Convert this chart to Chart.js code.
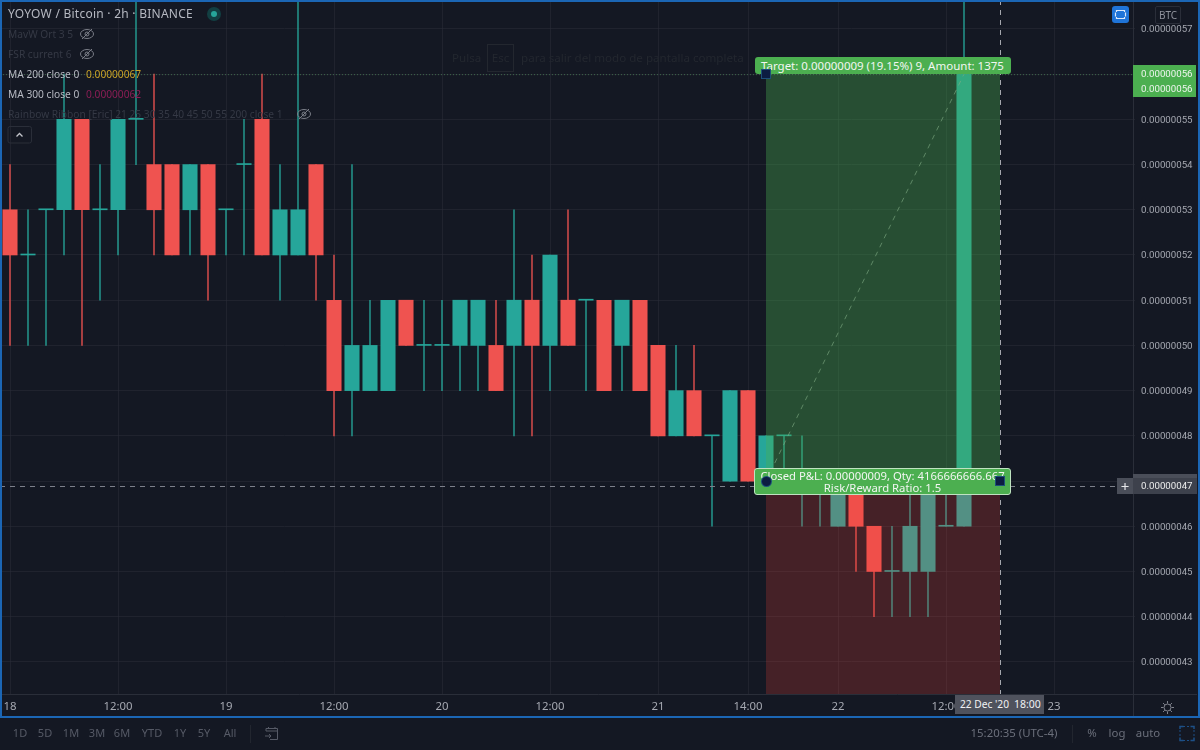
<!DOCTYPE html>
<html lang="es"><head><meta charset="utf-8">
<style>
html,body{margin:0;padding:0;background:#141823;width:1200px;height:750px;overflow:hidden}
#wrap{position:relative;width:1200px;height:750px;font-family:"Noto Sans",sans-serif}
canvas{position:absolute;left:0;top:0}
.t{position:absolute;white-space:nowrap;line-height:16px;font-size:10.2px;height:16px}
.frame{position:absolute;left:0;top:0;width:1196px;height:714px;border:2px solid #1b66b5;box-sizing:content-box;pointer-events:none}
.tag{position:absolute;background:#4caf50;color:#f2f6f2;white-space:nowrap}
.tool{position:absolute;top:725px;line-height:16px;font-size:11px;color:#565a66;transform:translateX(-50%)}
.right{color:#6b6f7b;font-size:11.4px}
.h{position:absolute;background:#0c1d42;box-shadow:0 0 0 1px #1d4f7a}
</style></head><body>
<div id="wrap">
<canvas id="c" width="1200" height="750"></canvas>

<div class="t" style="left:452px;top:50px;color:#23272f;font-size:11.6px">Pulsa</div>
<div class="t" style="left:487px;top:44px;width:25px;height:26px;line-height:26px;text-align:center;border:1px solid #23272f;color:#23272f;font-size:11.6px">Esc</div>
<div class="t" style="left:521px;top:50px;color:#23272f;font-size:11.6px">para salir del modo de pantalla completa</div>

<div class="t" style="left:8px;top:6px;color:#b6b9c2;font-size:12px;letter-spacing:.25px">YOYOW / Bitcoin · 2h · BINANCE</div>
<div style="position:absolute;left:207px;top:7px;width:14px;height:14px;border-radius:50%;background:#123f42"></div>
<div style="position:absolute;left:211px;top:11px;width:6px;height:6px;border-radius:50%;background:#26a69a"></div>
<div class="t" style="left:8px;top:26px;color:#353945">MavW Ort 3 5</div>
<div class="t" style="left:8px;top:46px;color:#353945">FSR current 6</div>
<div class="t" style="left:8px;top:66px;color:#b6b9c2">MA 200 close 0</div>
<div class="t" style="left:86px;top:66px;color:#c9a227">0.00000067</div>
<div class="t" style="left:8px;top:86px;color:#b6b9c2">MA 300 close 0</div>
<div class="t" style="left:86px;top:86px;color:#8b1e55">0.00000062</div>
<div class="t" style="left:8px;top:106px;color:#353945;font-size:10.2px">Rainbow Ribbon [Eric] 21 25 30 35 40 45 50 55 200 close 1</div>
<svg style="position:absolute;left:0;top:0" width="320" height="150" fill="none" stroke="#7b7e88" stroke-width="1">
 <g id="eye"><ellipse cx="87" cy="34" rx="6.5" ry="4.5"/><circle cx="87" cy="34" r="2"/><path d="M82 39 92 29"/></g>
 <g><ellipse cx="87" cy="54" rx="6.5" ry="4.5"/><circle cx="87" cy="54" r="2"/><path d="M82 59 92 49"/></g>
 <g><ellipse cx="304" cy="114" rx="6.5" ry="4.5"/><circle cx="304" cy="114" r="2"/><path d="M299 119 309 109"/></g>
 <rect x="8" y="126.500" width="23.500" height="16.500" rx="2" stroke="#2a2e39"/>
 <path d="M16.500 136.500 19.500 133.500 22.500 136.500" stroke="#c4c6cc" stroke-width="1.300"/>
</svg>

<div style="position:absolute;left:1112px;top:6px;width:17px;height:17px;border-radius:3px;background:#1f74d8"></div>
<svg style="position:absolute;left:1112px;top:6px" width="17" height="17" fill="none" stroke="#dbe8fa" stroke-width="1.200"><path d="M4.500 6V4.500h8V6M4.500 11v1.500h8V11M3.500 6.500v4M13.500 6.500v4"/></svg>
<div class="t" style="left:1155px;top:6px;width:24px;height:16px;border:1px solid #2a2e39;border-radius:2px;text-align:center;color:#8d909a;font-size:10px;line-height:16px">BTC</div>

<div class="tag" style="left:755px;top:57px;width:256px;height:17px;line-height:17px;border-radius:3px;padding-left:6px;box-sizing:border-box;font-size:11.5px">Target: 0.00000009 (19.15%) 9, Amount: 1375</div>
<div class="tag" style="left:754px;top:468px;width:257px;height:27px;border:1px solid #bfe3c1;border-radius:3px;box-sizing:border-box;font-size:11.3px;line-height:12px;text-align:center;padding-top:1px">Closed P&amp;L: 0.00000009, Qty: 4166666666.667<br>Risk/Reward Ratio: 1.5</div>
<div class="h" style="left:762px;top:70px;width:8px;height:8px"></div>
<div class="h" style="left:761.500px;top:476.500px;width:9px;height:9px;border-radius:50%"></div>
<div class="h" style="left:995.500px;top:476.500px;width:8px;height:8px"></div>

<div class="tag" style="left:1133px;top:65px;width:63px;height:32px"></div>
<div class="t" style="left:1141px;top:66px;color:#eef5ee;font-size:9.7px;font-family:Roboto">0.00000056</div>
<div class="t" style="left:1141px;top:81px;color:#eef5ee;font-size:9.7px;font-family:Roboto">0.00000056</div>

<div style="position:absolute;left:1133px;top:474px;width:64px;height:5px;background:#4a4e59"></div>
<div style="position:absolute;left:1133px;top:478px;width:64px;height:16px;background:#3d414c"></div>
<div style="position:absolute;left:1117px;top:478px;width:16px;height:16px;background:#4a4e59"></div>
<div class="t" style="left:1118px;top:478px;width:14px;text-align:center;color:#e6e7ea;font-size:15px">+</div>
<div class="t" style="left:1141px;top:478px;color:#eceded;font-size:9.7px;font-family:Roboto">0.00000047</div>

<div style="position:absolute;left:955px;top:695px;width:89px;height:19px;background:#4f525d"></div>
<div class="t" style="left:960px;top:696px;color:#f0f1f3;font-size:10.2px">22 Dec '20</div>
<div class="t" style="left:1014px;top:696px;color:#f0f1f3;font-size:10.5px">18:00</div>
<svg style="position:absolute;left:1160px;top:700px" width="15" height="15" fill="none" stroke="#80838e" stroke-width="1"><circle cx="7.500" cy="7.500" r="3.500"/><path d="M7.500 1v2.500M7.500 11.500V14M1 7.500h2.500M11.500 7.500H14M3 3l1.800 1.800M10.200 10.200 12 12M12 3l-1.800 1.800M4.800 10.200 3 12"/></svg>

<div class="tool" style="left:20px">1D</div><div class="tool" style="left:45px">5D</div><div class="tool" style="left:71px">1M</div><div class="tool" style="left:97px">3M</div><div class="tool" style="left:122px">6M</div><div class="tool" style="left:152px">YTD</div><div class="tool" style="left:180px">1Y</div><div class="tool" style="left:204px">5Y</div><div class="tool" style="left:230px">All</div>
<div style="position:absolute;left:250px;top:725px;width:1px;height:18px;background:#22262f"></div>
<svg style="position:absolute;left:264px;top:726px" width="16" height="16" fill="none" stroke="#565a66" stroke-width="1"><path d="M2 5V2.500h11.500v11H6M2 5h11.500M4.500 1v2M11 1v2M1 10h6M5 8l2 2-2 2"/></svg>
<div class="tool right" style="left:1014px">15:20:35 (UTC-4)</div>
<div style="position:absolute;left:1072px;top:725px;width:1px;height:18px;background:#22262f"></div>
<div class="tool right" style="left:1092px">%</div><div class="tool right" style="left:1117px">log</div><div class="tool right" style="left:1148px">auto</div>
<svg style="position:absolute;left:1179px;top:725px" width="16" height="17" fill="none" stroke="#1d4f86" stroke-width="1.500"><path d="M1 4V1.500h3.500M11.500 1.500H15V4M1 12.500V15.500h3.500M11.500 15.500H15V12.500"/><path d="M4 1.500h8M1 5v7M15 5v7M4 15.500h8" stroke-dasharray="2 2" stroke-width="1"/></svg>
<div class="frame"></div>
</div>

<script src="https://cdn.jsdelivr.net/npm/chart.js@4"></script>
<script>
// Prices in satoshi (1e-8 BTC), one entry per 2h candle
const categories = ["18","","","","","","12:00","","","","","","19","","","","","","12:00","","","","","","20","","","","","","12:00","","","","","","21","","","","","14:00","","","","","22","","","","","","12:00","","","","","","23","","","",""];
const opens  = [53,52,53,53,55,53,53,55,54,54,53,54,53,54,55,52,52,54,51,49,49,49,51,50,50,50,50,50,50,51,50,51,51,51,50,51,50,48,49,48,47,49,47,48,47,47,46,47,46,45,45,45,46,46];
const closes = [52,52,53,55,53,53,55,55,53,52,54,52,53,54,52,53,53,52,49,50,50,51,50,50,50,51,51,49,51,50,52,50,51,49,51,49,48,49,48,48,49,47,48,48,47,47,47,46,45,45,46,47,46,56];
const highs  = [54,53,53,56,55,54,55,58,56,54,54,54,53,55,56,54,58,54,52,54,51,51,51,51,51,51,51,51,53,52,52,53,51,51,51,51,50,50,50,48,49,49,48,48,48,47,47,47,46,46,47,47,47,58];
const lows   = [50,50,50,52,50,51,52,54,52,52,52,51,52,52,52,51,52,51,48,48,49,49,50,49,49,49,49,49,48,48,49,50,49,49,49,49,48,48,48,46,47,47,47,47,46,46,46,45,44,44,44,44,46,46];
const targetPrice = 56, entryPrice = 47, crosshairPrice = 46.89;
const positionStart = 42, positionEnd = 55, diagonalEnd = 53;

const TEAL = '#26a69a', RED = '#ef5350', TEAL_WICK = 'rgba(38,166,154,0.72)', RED_WICK = 'rgba(239,83,80,0.72)';
const up = opens.map((o,i)=> closes[i] >= o);
const bodyColors = up.map(u=> u ? TEAL : RED);
const wickColors = up.map(u=> u ? TEAL_WICK : RED_WICK);
const bodies = opens.map((o,i)=> [Math.min(o,closes[i]), Math.max(o,closes[i])]);
const wicks  = lows.map((l,i)=> [l, highs[i]]);

const positionPlugin = {
  id:'position',
  afterDatasetsDraw(chart){
    const {ctx, chartArea:a, scales:{x,y}} = chart;
    const xs = x.getPixelForValue(positionStart), xe = x.getPixelForValue(positionEnd);
    const yT = y.getPixelForValue(targetPrice), yE = y.getPixelForValue(entryPrice);
    ctx.save();
    ctx.fillStyle = 'rgba(76,175,80,0.36)';
    ctx.fillRect(xs, yT, xe-xs, yE-yT);
    ctx.fillStyle = 'rgba(244,67,54,0.22)';
    ctx.fillRect(xs, yE, xe-xs, a.bottom-yE);
    // diagonal
    ctx.strokeStyle = 'rgba(130,175,135,0.6)'; ctx.lineWidth = 1; ctx.setLineDash([5,5]);
    ctx.beginPath(); ctx.moveTo(xs,yE); ctx.lineTo(x.getPixelForValue(diagonalEnd), yT); ctx.stroke();
    // target dotted line
    ctx.strokeStyle = 'rgba(90,160,100,0.55)'; ctx.setLineDash([1,2]);
    ctx.beginPath(); ctx.moveTo(0,yT+.5); ctx.lineTo(1133,yT+.5); ctx.stroke();
    // crosshair
    const yC = Math.round(y.getPixelForValue(crosshairPrice))+.5;
    ctx.strokeStyle = '#7d808a'; ctx.setLineDash([5,5]);
    ctx.beginPath(); ctx.moveTo(0,yC); ctx.lineTo(1133,yC); ctx.stroke();
    ctx.strokeStyle = '#a4a6ad'; ctx.setLineDash([5,5]);
    ctx.beginPath(); ctx.moveTo(xe+.5,0); ctx.lineTo(xe+.5,a.bottom); ctx.stroke();
    // axis borders
    ctx.setLineDash([]); ctx.strokeStyle = '#2a2e39';
    ctx.beginPath(); ctx.moveTo(1133.5,0); ctx.lineTo(1133.5,a.bottom+22); ctx.moveTo(0,a.bottom+.5); ctx.lineTo(1197,a.bottom+.5); ctx.stroke();
    ctx.restore();
  }
};

new Chart(document.getElementById('c'), {
  type:'bar',
  data:{ labels:categories, datasets:[
    {label:'body', data:bodies, backgroundColor:bodyColors, barThickness:14.4, minBarLength:1, order:1, borderWidth:0},
    {label:'wick', data:wicks, backgroundColor:wickColors, barThickness:1.2, order:2, borderWidth:0}
  ]},
  options:{
    responsive:false, animation:false, events:[],
    layout:{padding:{left:1,right:0,top:0,bottom:34}},
    datasets:{bar:{grouped:false}},
    plugins:{legend:{display:false},tooltip:{enabled:false}},
    scales:{
      x:{ type:'category', offset:true, border:{display:false},
        grid:{ drawTicks:false, offset:false, color:c=> categories[c.index] ? 'rgba(42,46,57,0.55)' : 'rgba(0,0,0,0)' },
        ticks:{ autoSkip:false, maxRotation:0, minRotation:0, padding:6, color:'#a5a8b1', font:{family:'"Noto Sans"',size:11.4} },
        afterFit(s){ s.height = 22; s.paddingLeft = 0; s.paddingRight = 0; }
      },
      y:{ type:'linear', position:'right', min:42.29, max:57.64, border:{display:false},
        grid:{ drawTicks:false, color:'rgba(42,46,57,0.55)' },
        ticks:{ stepSize:1, includeBounds:false, padding:6, labelOffset:1, color:'#a5a8b1', font:{family:'Roboto',size:9.7},
          callback:v=> (v/1e8).toFixed(8) },
        afterFit(s){ s.width = 65; s.paddingTop = 0; s.paddingBottom = 0; }
      }
    }
  },
  plugins:[positionPlugin]
});
</script>
</body></html>
